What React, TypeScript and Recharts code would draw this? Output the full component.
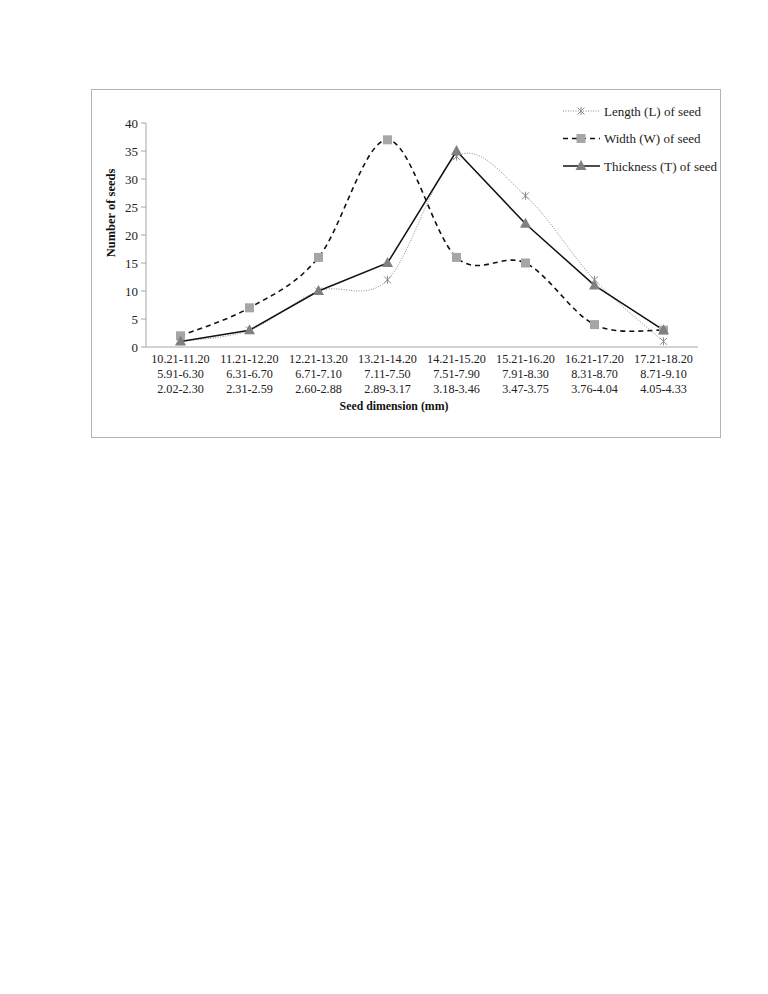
import { Legend, Line, LineChart, XAxis, YAxis } from 'recharts'

const lengthRanges = ['10.21-11.20', '11.21-12.20', '12.21-13.20', '13.21-14.20', '14.21-15.20', '15.21-16.20', '16.21-17.20', '17.21-18.20']
const widthRanges = ['5.91-6.30', '6.31-6.70', '6.71-7.10', '7.11-7.50', '7.51-7.90', '7.91-8.30', '8.31-8.70', '8.71-9.10']
const thicknessRanges = ['2.02-2.30', '2.31-2.59', '2.60-2.88', '2.89-3.17', '3.18-3.46', '3.47-3.75', '3.76-4.04', '4.05-4.33']

const lengthCounts = [1, 3, 10, 12, 34, 27, 12, 1]
const widthCounts = [2, 7, 16, 37, 16, 15, 4, 3]
const thicknessCounts = [1, 3, 10, 15, 35, 22, 11, 3]

const yTicks = [0, 5, 10, 15, 20, 25, 30, 35, 40]

const chartData = lengthRanges.map((range, i) => ({
  range,
  length: lengthCounts[i],
  width: widthCounts[i],
  thickness: thicknessCounts[i],
}))

const FONT = '"Liberation Serif", "Times New Roman", serif'

// Excel-like smoothed line (Catmull-Rom through every point)
function smoothCurve(context: any) {
  let pts: [number, number][] = []
  return {
    areaStart() {},
    areaEnd() {},
    lineStart() {
      pts = []
    },
    point(x: number, y: number) {
      pts.push([+x, +y])
    },
    lineEnd() {
      if (!pts.length) return
      context.moveTo(pts[0][0], pts[0][1])
      for (let i = 0; i < pts.length - 1; i++) {
        const p0 = pts[i - 1] ?? pts[i]
        const p1 = pts[i]
        const p2 = pts[i + 1]
        const p3 = pts[i + 2] ?? p2
        context.bezierCurveTo(
          p1[0] + (p2[0] - p0[0]) / 6,
          p1[1] + (p2[1] - p0[1]) / 6,
          p2[0] - (p3[0] - p1[0]) / 6,
          p2[1] - (p3[1] - p1[1]) / 6,
          p2[0],
          p2[1],
        )
      }
    },
  }
}

function StarMark({ cx, cy }: { cx: number; cy: number }) {
  const r = 3.5
  return (
    <g stroke="#8c8c8c" strokeWidth={1}>
      <line x1={cx - r} y1={cy - r} x2={cx + r} y2={cy + r} />
      <line x1={cx - r} y1={cy + r} x2={cx + r} y2={cy - r} />
      <line x1={cx} y1={cy - r - 0.5} x2={cx} y2={cy + r + 0.5} />
    </g>
  )
}

function SquareMark({ cx, cy }: { cx: number; cy: number }) {
  return <rect x={cx - 4.5} y={cy - 4.5} width={9} height={9} fill="#a6a6a6" />
}

function TriangleMark({ cx, cy }: { cx: number; cy: number }) {
  return (
    <polygon
      points={`${cx},${cy - 6} ${cx - 5.5},${cy + 4} ${cx + 5.5},${cy + 4}`}
      fill="#808080"
    />
  )
}

function XTick({ x, y, payload, index }: any) {
  const i = payload?.index ?? index
  return (
    <text x={x} y={y} textAnchor="middle" fontFamily={FONT} fontSize={12.2} fill="#222">
      <tspan x={x} dy={16}>{lengthRanges[i]}</tspan>
      <tspan x={x} dy={15}>{widthRanges[i]}</tspan>
      <tspan x={x} dy={15}>{thicknessRanges[i]}</tspan>
    </text>
  )
}

const legendItems = [
  { label: 'Length (L) of seed', dash: '1 1.5', stroke: '#8c8c8c', width: 1, mark: StarMark },
  { label: 'Width (W) of seed', dash: '5 4', stroke: '#111', width: 1.5, mark: SquareMark },
  { label: 'Thickness (T) of seed', dash: undefined, stroke: '#111', width: 1.5, mark: TriangleMark },
]

function SeedLegend() {
  return (
    <svg width={250} height={80}>
      {legendItems.map((item, i) => {
        const cy = 13 + i * 27.5
        const Mark = item.mark
        return (
          <g key={item.label}>
            <line
              x1={2}
              x2={39}
              y1={cy}
              y2={cy}
              stroke={item.stroke}
              strokeWidth={item.width}
              strokeDasharray={item.dash}
            />
            <Mark cx={20} cy={cy} />
            <text x={43} y={cy + 4.5} fontFamily={FONT} fontSize={13} fill="#222">
              {item.label}
            </text>
          </g>
        )
      })}
    </svg>
  )
}

export default function App() {
  return (
    <div
      style={{
        marginLeft: 83,
        marginTop: 81,
        width: 628,
        height: 347,
        border: '1px solid #b3b3b3',
        background: '#fff',
      }}
    >
      <LineChart
        width={628}
        height={347}
        data={chartData}
        margin={{ top: 33, right: 22, bottom: 10, left: 0 }}
      >
        <XAxis
          dataKey="range"
          scale="band"
          height={80}
          tickSize={0}
          tickMargin={0}
          stroke="#a6a6a6"
          tick={<XTick />}
          interval={0}
          label={{
            content: () => (
              <text
                x={302}
                y={320}
                textAnchor="middle"
                fontFamily={FONT}
                fontSize={11.8}
                fontWeight="bold"
                fill="#111"
              >
                Seed dimension (mm)
              </text>
            ),
          }}
        />
        <YAxis
          width={54}
          domain={[0, 40]}
          ticks={yTicks}
          interval={0}
          tickSize={5}
          tickMargin={3}
          stroke="#a6a6a6"
          tick={{ fontFamily: FONT, fontSize: 13, fill: '#222' }}
          label={{
            content: () => (
              <text
                x={23}
                y={123}
                transform="rotate(-90 23 123)"
                textAnchor="middle"
                fontFamily={FONT}
                fontSize={12.5}
                fontWeight="bold"
                fill="#111"
              >
                Number of seeds
              </text>
            ),
          }}
        />
        <Legend
          layout="vertical"
          align="center"
          verticalAlign="middle"
          wrapperStyle={{ left: 469, top: 8, width: 250 }}
          content={() => <SeedLegend />}
        />
        <Line
          dataKey="length"
          name="Length (L) of seed"
          type={smoothCurve as any}
          stroke="#8c8c8c"
          strokeWidth={1}
          strokeDasharray="1 1.5"
          dot={(p: any) => <StarMark key={`l${p.index}`} cx={p.cx} cy={p.cy} />}
          activeDot={false}
          isAnimationActive={false}
        />
        <Line
          dataKey="width"
          name="Width (W) of seed"
          type={smoothCurve as any}
          stroke="#111"
          strokeWidth={1.6}
          strokeDasharray="5 4"
          dot={(p: any) => <SquareMark key={`w${p.index}`} cx={p.cx} cy={p.cy} />}
          activeDot={false}
          isAnimationActive={false}
        />
        <Line
          dataKey="thickness"
          name="Thickness (T) of seed"
          type="linear"
          stroke="#111"
          strokeWidth={1.5}
          dot={(p: any) => <TriangleMark key={`t${p.index}`} cx={p.cx} cy={p.cy} />}
          activeDot={false}
          isAnimationActive={false}
        />
      </LineChart>
    </div>
  )
}
